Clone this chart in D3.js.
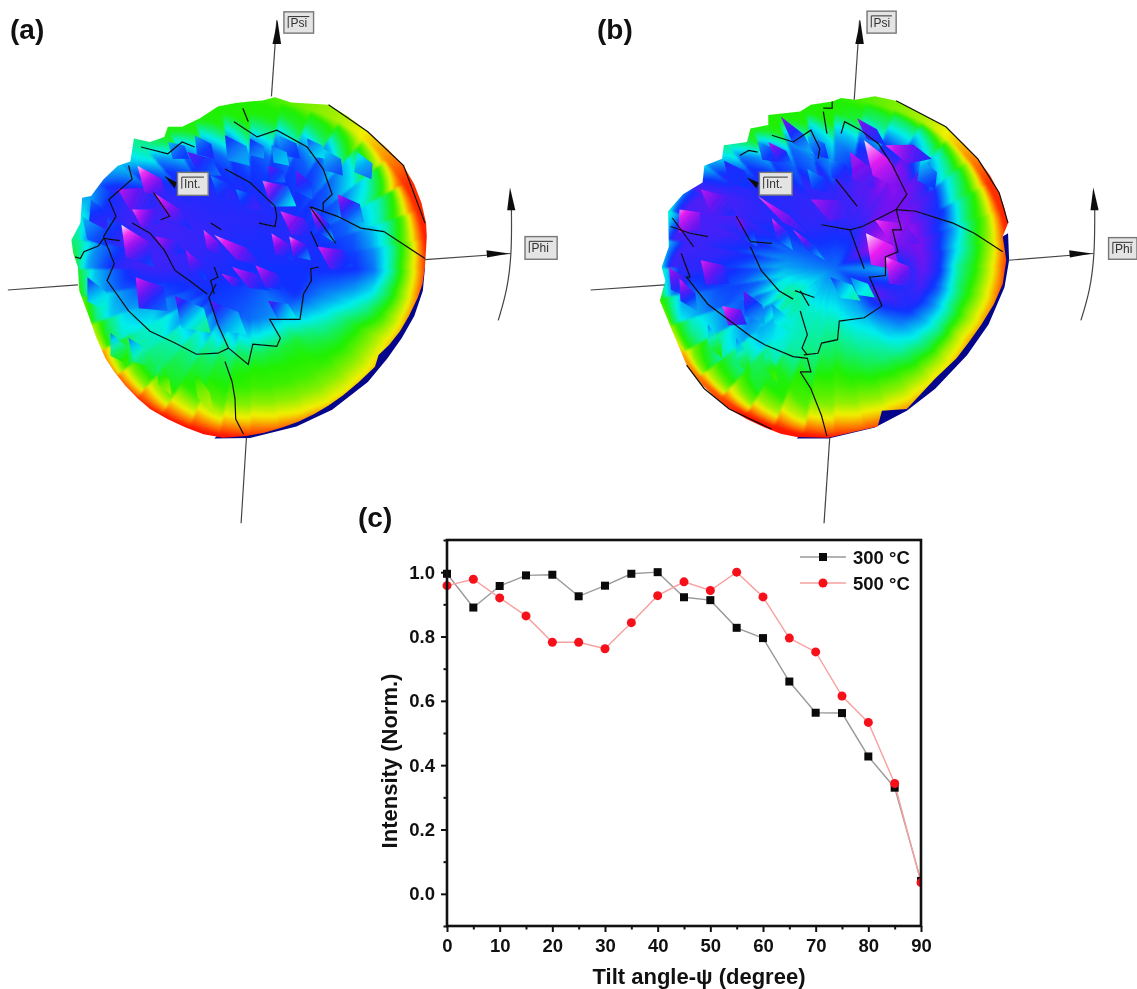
<!DOCTYPE html>
<html><head><meta charset="utf-8">
<script src="https://cdnjs.cloudflare.com/ajax/libs/d3/7.8.5/d3.min.js"></script>
<style>
html,body{margin:0;padding:0;background:#fff;width:1137px;height:989px;overflow:hidden}
#wrap{position:relative;width:1137px;height:989px}
canvas,svg{position:absolute;left:0;top:0}
text{font-family:"Liberation Sans",Arial,sans-serif}
</style></head><body><div id="wrap"></div>
<script>
// ---------- panel (c) data ----------
const tiltAngles=[0,5,10,15,20,25,30,35,40,45,50,55,60,65,70,75,80,85,90];
const intensity300=[.995,.89,.957,.99,.992,.925,.958,.995,1,.922,.913,.827,.795,.66,.563,.562,.427,.33,.04];
const intensity500=[.958,.978,.92,.864,.782,.782,.762,.843,.927,.97,.943,1,.923,.795,.752,.615,.533,.343,.035];
const xMajorTicks=[0,10,20,30,40,50,60,70,80,90];
const xMinorTicks=[5,15,25,35,45,55,65,75,85];
const yMajorTicks=[0,.2,.4,.6,.8,1];
const yMinorTicks=[-.1,.1,.3,.5,.7,.9,1.1];
const seriesNames=["300 °C","500 °C"];

// ---------- pole-figure surfaces (in picture units) ----------
const surfaceRadii=[0,.3,.5,.6,.7,.8,.9,.96,1];
// rows: direction, every 30 degrees clockwise from Phi; columns: surfaceRadii
const surfaceA=[
[.6,.6,.61,.6,.55,.4,.2,.08,0],
[.6,.6,.46,.38,.3,.22,.13,.05,0],
[.6,.52,.33,.3,.28,.23,.15,.06,0],
[.6,.55,.36,.3,.28,.22,.12,.05,0],
[.6,.58,.42,.37,.33,.3,.17,.07,0],
[.6,.6,.52,.45,.44,.42,.3,.15,.05],
[.6,.63,.65,.65,.63,.57,.5,.38,.3],
[.6,.64,.65,.66,.66,.65,.62,.58,.55],
[.6,.63,.62,.6,.57,.48,.32,.3,.3],
[.6,.63,.6,.59,.55,.4,.3,.3,.3],
[.6,.62,.6,.59,.57,.5,.35,.3,.2],
[.6,.63,.58,.55,.47,.42,.3,.12,.02]];
const surfaceB=[
[.55,.5,.7,.6,.4,.3,.15,.05,0],
[.55,.68,.6,.5,.38,.2,.08,.02,0],
[.55,.5,.42,.38,.3,.22,.12,.05,0],
[.55,.42,.35,.3,.27,.22,.12,.05,0],
[.55,.42,.42,.4,.32,.32,.22,.1,0],
[.55,.38,.54,.56,.5,.42,.33,.25,.1],
[.55,.5,.58,.6,.63,.63,.65,.5,.4],
[.55,.58,.63,.65,.67,.68,.67,.58,.45],
[.55,.64,.63,.6,.58,.5,.32,.3,.3],
[.55,.64,.64,.55,.52,.45,.3,.3,.3],
[.55,.64,.7,.76,.72,.58,.45,.35,.2],
[.55,.8,.74,.65,.6,.42,.3,.15,.02]];
// fine radial saw-tooth of the surface, one value per 10 degrees
const jagA=[.004,.006,.005,.004,.006,.006,.005,.006,.008,.02,.04,.03,.06,.04,.07,.05,.06,.05,.06,.08,.05,.07,.06,.05,.07,.06,.08,.05,.07,.06,.08,.05,.06,.03,.015,.008];
const jagB=[.004,.005,.006,.004,.006,.005,.006,.008,.01,.03,.06,.04,.07,.05,.08,.06,.07,.06,.07,.08,.06,.07,.05,.06,.08,.06,.08,.06,.06,.04,.05,.03,.02,.012,.008,.004];
const outlineA=[[700,300],[735,297],[770,288],[815,303],[920,310],[975,345],[1030,390],[1085,440],[1130,490],[1160,545],[1180,600],[1193,660],[1195,700],[1190,790],[1183,840],[1170,880],[1145,935],[1120,980],[1090,1020],[1060,1050],[1050,1085],[1005,1130],[960,1170],[920,1200],[880,1225],[835,1248],[790,1265],[740,1280],[690,1290],[625,1295],[570,1285],[520,1265],[470,1240],[420,1210],[385,1178],[350,1140],[320,1100],[295,1060],[270,1000],[250,940],[222,860],[218,790],[205,750],[200,710],[225,660],[230,585],[255,580],[290,530],[330,490],[365,478],[375,410],[420,420],[460,405],[470,375],[510,375],[560,350],[610,315],[660,305]];
const outlineB=[[735,290],[775,295],[830,285],[890,298],[960,335],[1030,375],[1080,425],[1120,470],[1155,520],[1180,570],[1195,615],[1205,660],[1190,700],[1200,770],[1190,840],[1165,900],[1130,960],[1095,1012],[1060,1060],[1000,1120],[920,1210],[850,1215],[838,1262],[760,1280],[700,1295],[610,1293],[565,1283],[520,1265],[470,1240],[420,1210],[380,1175],[345,1140],[320,1110],[300,1080],[260,980],[225,890],[240,830],[230,790],[250,730],[248,625],[290,575],[345,540],[350,490],[400,470],[405,430],[470,420],[480,380],[530,370],[530,340],[620,330],[650,310],[710,300]];
const shadowA=[[1190,790],[1184,860],[1160,935],[1125,1000],[1085,1060],[1030,1130],[930,1212],[830,1262],[700,1296],[600,1297],[700,1200],[1000,900]];
const shadowB=[[1205,690],[1208,770],[1195,850],[1150,960],[1090,1050],[1000,1150],[920,1215],[830,1265],[700,1297],[610,1297],[700,1200],[1000,900],[1190,700]];
// surface spikes: tip x, tip y, base x, base y, half width, tip level, base level
const spikesA=[
[470,420,530,470,30,.48,.6],[545,400,600,470,30,.5,.62],[780,400,840,470,32,.5,.6],[905,440,960,520,34,.45,.58],[1000,450,1040,530,34,.42,.55],
[255,590,300,680,34,.55,.64],[230,640,300,730,30,.48,.6],[590,520,660,590,28,.52,.64],[660,560,730,620,30,.52,.66],
[630,400,700,490,40,.62,.5],[525,450,620,520,35,.7,.55],[700,410,740,470,28,.62,.52],[760,430,810,490,28,.55,.48],[860,410,910,470,28,.58,.46],
[750,490,800,540,28,.72,.55],[830,505,875,590,30,.72,.55],[330,560,440,610,50,.8,.62],[385,490,470,590,36,.98,.62],[735,535,830,610,45,.92,.45],
[945,575,1020,660,40,.8,.5],[370,620,450,660,36,.9,.62],[430,570,540,680,24,.9,.6],[785,625,880,700,35,.88,.6],[868,612,940,720,24,.92,.5],
[570,680,620,760,22,.9,.62],[435,700,520,750,28,.8,.6],[340,665,430,790,46,1,.58],[600,695,740,790,26,.95,.6],[760,690,820,770,28,.9,.58],
[810,700,870,770,30,.95,.52],[890,730,990,790,40,.85,.58],[520,740,580,830,24,.8,.58],[650,790,760,860,28,.85,.58],[715,785,800,860,30,.85,.58],
[380,820,470,920,55,.85,.55],[245,820,300,920,35,.62,.42],[490,875,590,985,50,.72,.38],[590,890,690,990,45,.7,.45],[750,890,830,940,32,.7,.45],
[310,985,360,1080,32,.55,.28],[360,1000,430,1090,32,.55,.33],[440,1080,480,1170,20,.42,.2],[540,1090,600,1230,22,.35,.18],[620,810,690,850,16,.85,.58]];
const spikesB=[
[500,420,560,480,28,.5,.62],[640,400,700,470,30,.48,.6],[700,470,760,530,34,.5,.64],[960,470,1000,560,36,.45,.6],[640,500,700,570,28,.5,.62],
[565,345,660,460,24,.75,.5],[780,350,860,430,24,.75,.6],[530,420,600,490,24,.8,.55],[405,475,480,560,34,.62,.6],[800,415,900,560,40,1,.72],
[860,430,990,470,35,.88,.62],[760,450,830,560,36,.8,.66],[340,560,440,640,42,.8,.62],[280,620,340,680,50,.92,.68],[500,580,650,700,16,.92,.62],
[650,590,770,640,40,.78,.64],[830,650,960,720,42,.88,.68],[440,640,500,730,24,.78,.55],[540,645,600,740,22,.88,.5],[600,680,690,770,14,.88,.5],
[805,690,900,800,50,1,.74],[860,760,940,850,45,.95,.62],[340,770,420,840,45,.85,.6],[250,790,310,880,32,.8,.56],[280,825,330,920,28,.85,.52],
[705,820,790,890,30,.62,.4],[460,860,520,960,34,.72,.5],[400,905,470,960,34,.9,.62],[760,820,830,880,26,.55,.42],[540,900,590,980,24,.55,.42],
[360,960,400,1060,24,.55,.3],[440,1000,480,1110,24,.55,.3],[520,1040,555,1130,18,.45,.27]];
// black section lines of the plot
const contoursA=[
[[680,320],[695,360]],
[[655,360],[720,405],[775,385],[860,435],[905,500],[930,575],[905,600],[905,625],[870,612],[945,640],[1010,675],[1075,685],[1190,765]],
[[395,435],[470,455],[510,420],[545,435]],
[[360,490],[370,530],[305,590],[325,640],[290,700],[320,780],[300,830],[360,920],[420,980],[490,1015],[550,1048],[610,1045],[640,1030],[610,960],[585,880],[605,840]],
[[630,1070],[650,1130],[658,1180],[660,1240],[682,1285]],
[[640,1030],[695,1078],[708,1018],[775,1025],[785,1000],[755,945],[840,945],[850,870],[872,830],[870,795],[892,790]],
[[210,760],[225,765],[235,745],[275,728],[290,705],[335,712]],
[[370,660],[420,690],[460,740],[490,800],[530,830],[580,870]],
[[868,612],[940,720]],[[870,685],[890,730]],
[[630,500],[700,540],[770,610],[775,640],[770,670],[725,660]],
[[430,570],[475,640],[450,650]],[[590,660],[620,680]],
[[600,790],[610,820],[590,830],[600,870]],
[[920,310],[1030,390],[1130,490],[1190,660]]];
const contoursB=[
[[685,320],[710,320],[710,300]],[[685,330],[695,395]],
[[735,395],[745,360],[790,385],[840,425],[880,490],[920,575],[890,620],[795,670],[760,680],[800,795]],
[[890,620],[945,625],[1050,660],[1110,690],[1190,745]],
[[890,620],[905,680],[880,680],[895,745],[860,760],[860,815],[815,820],[850,905],[800,940],[730,950],[725,1005],[680,1015],[670,1045],[630,1050]],
[[620,1100],[650,1150],[680,1230],[695,1290]],
[[260,645],[320,730]],[[255,670],[310,690],[360,700]],
[[285,750],[310,820],[300,820],[360,900],[480,995],[520,1020],[600,1055],[640,1060],[650,1100],[620,1100]],
[[620,920],[640,990],[625,1030],[640,1050]],
[[440,640],[480,715],[540,720]],[[480,730],[510,800],[560,860],[600,885]],
[[450,460],[475,445],[500,450]],
[[540,400],[600,420],[650,385],[675,440],[670,470]],
[[720,530],[780,610]],[[680,665],[760,680]],
[[620,860],[645,905]],[[605,860],[660,880]],
[[300,1080],[350,1150],[420,1210],[540,1270]],
[[890,298],[1030,375],[1120,470],[1180,570],[1205,660]]];
const levelStops=[0,.07,.15,.3,.45,.6,.72,.86,1];
const levelColors=['#ff1400','#ff7a00','#f0f000','#20f000','#00eeee','#1030ff','#7a10f0','#f020f0','#f6f0ff'];

const W=1137,H=989;
const wrap=d3.select('#wrap');
const canvas=wrap.append('canvas').attr('width',W).attr('height',H).node();
const ctx=canvas.getContext('2d');
ctx.fillStyle='#fff';ctx.fillRect(0,0,W,H);
const svg=wrap.append('svg').attr('width',W).attr('height',H);
const defs=svg.append('defs');
defs.append('filter').attr('id','soft').attr('x','-5%').attr('y','-5%').attr('width','110%').attr('height','110%')
  .append('feGaussianBlur').attr('stdDeviation',.7);
defs.append('filter').attr('id','softer').append('feGaussianBlur').attr('stdDeviation',.35);
const level=d3.scaleLinear().domain(levelStops).range(levelColors).clamp(true);

const panels=[
 {id:'a',surface:surfaceA,jag:jagA,outline:outlineA,shadow:shadowA,spikes:spikesA,contours:contoursA,
  cx:700,cy:793,x:[0,560],psi:[[760,285],[775,60]],west:[[22,858],[218,843]],south:[[690,1295],[675,1548]],east:[[1190,768],[1430,750]],
  arc:[[1395,948],[1420,860],[1433,750],[1432,620]],top:1428,boxes:[['Psi',795,35,878,98],['Int.',497,510,583,578],['Phi',1470,700,1560,767]],intArrow:[460,520,495,558]},
 {id:'b',surface:surfaceB,jag:jagB,outline:outlineB,shadow:shadowB,spikes:spikesB,contours:contoursB,
  cx:715,cy:792,x:[580,1137],psi:[[772,295],[787,60]],west:[[30,858],[238,843]],south:[[703,1295],[687,1548]],east:[[1205,770],[1445,750]],
  arc:[[1410,948],[1436,860],[1449,750],[1449,620]],top:1445,boxes:[['Psi',808,33,890,98],['Int.',505,510,597,577],['Phi',1488,703,1568,767]],intArrow:[470,525,503,558]}
];

panels.forEach(p=>{
  const sx=d3.scaleLinear().domain([0,1568]).range(p.x);
  const sy=d3.scaleLinear().domain([0,1568]).range([0,530]);
  const line=d3.line().x(d=>sx(d[0])).y(d=>sy(d[1]));
  // navy underside
  ctx.fillStyle='#05058c';ctx.beginPath();
  p.shadow.forEach((d,i)=>i?ctx.lineTo(sx(d[0]),sy(d[1])):ctx.moveTo(sx(d[0]),sy(d[1])));
  ctx.closePath();ctx.fill();
  // shaded surface
  const x0=Math.floor(sx(150)),x1=Math.ceil(sx(1250)),y0=Math.floor(sy(250)),y1=Math.ceil(sy(1340));
  const off=document.createElement('canvas');off.width=x1-x0;off.height=y1-y0;
  const oc=off.getContext('2d'),img=oc.createImageData(off.width,off.height);
  for(let y=y0;y<y1;y++)for(let x=x0;x<x1;x++){
    const dx=(sx.invert(x)-p.cx)/495,dy=(sy.invert(y)-p.cy)/500;
    let r=Math.hypot(dx,dy),th=(Math.atan2(dy,dx)*180/Math.PI+360)%360;
    const s=th/10,si=Math.floor(s)%36;
    const fade=Math.min(1,r/.45)*(1-Math.pow(Math.min(r,1),8));
    r=Math.max(0,Math.min(1,r+p.jag[si]*(s-Math.floor(s)-.5)*2*fade));
    const a=th/30,ai=Math.floor(a)%12,af=a-Math.floor(a),aj=(ai+1)%12;
    let ri=d3.bisectRight(surfaceRadii,r)-1;ri=Math.min(ri,surfaceRadii.length-2);
    const rf=(r-surfaceRadii[ri])/(surfaceRadii[ri+1]-surfaceRadii[ri]);
    const A=p.surface[ai],B=p.surface[aj];
    const v=(A[ri]*(1-rf)+A[ri+1]*rf)*(1-af)+(B[ri]*(1-rf)+B[ri+1]*rf)*af;
    const c=d3.rgb(level(v)),o=((y-y0)*off.width+(x-x0))*4;
    img.data[o]=c.r;img.data[o+1]=c.g;img.data[o+2]=c.b;img.data[o+3]=255;
  }
  oc.putImageData(img,0,0);
  ctx.save();ctx.beginPath();
  p.outline.forEach((d,i)=>i?ctx.lineTo(sx(d[0]),sy(d[1])):ctx.moveTo(sx(d[0]),sy(d[1])));
  ctx.closePath();ctx.clip();ctx.filter='blur(1px)';ctx.drawImage(off,x0,y0);ctx.restore();

  defs.append('clipPath').attr('id','clip'+p.id).append('path').attr('d',line(p.outline)+'Z');
  const g=svg.append('g').attr('class','panel-'+p.id).attr('filter','url(#soft)');
  // spikes
  const sg=g.append('g').attr('clip-path',`url(#clip${p.id})`);
  p.spikes.forEach((d,i)=>{
    const [tx,ty,bx,by,w,vt,vb]=d;
    const gid=`sp${p.id}${i}`;
    const gr=defs.append('linearGradient').attr('id',gid).attr('gradientUnits','userSpaceOnUse')
      .attr('x1',sx(tx)).attr('y1',sy(ty)).attr('x2',sx(bx)).attr('y2',sy(by));
    d3.range(0,1.01,.2).forEach(t=>gr.append('stop').attr('offset',t).attr('stop-color',level(vb+(vt-vb)*Math.pow(1-t,1.6))));
    const L=Math.hypot(bx-tx,by-ty),nx=-(by-ty)/L,ny=(bx-tx)/L;
    const mx=tx+(bx-tx)*.55,my=ty+(by-ty)*.55;
    const pts=[[tx,ty],[mx+nx*w,my+ny*w],[bx,by],[mx-nx*w*.7,my-ny*w*.7]];
    sg.append('path').attr('d',line(pts)+'Z').attr('fill',`url(#${gid})`);
  });
  // section lines
  g.append('g').selectAll('path').data(p.contours).join('path').attr('d',line)
    .attr('fill','none').attr('stroke','#111').attr('stroke-width',1.2);
  // axes of the 3D view
  [p.psi,p.west,p.south,p.east].forEach(l=>g.append('path').attr('d',line(l)).attr('fill','none').attr('stroke','#444').attr('stroke-width',1.2));
  g.append('path').attr('d',d3.line().x(d=>sx(d[0])).y(d=>sy(d[1])).curve(d3.curveBasis)(p.arc)).attr('fill','none').attr('stroke','#444').attr('stroke-width',1.2);
  const tip=p.psi[1];
  g.append('path').attr('d',line([[tip[0]+2,tip[1]],[tip[0]+12,tip[1]+70],[tip[0]-12,tip[1]+70]])+'Z').attr('fill','#111');
  const et=p.east[1];
  g.append('path').attr('d',line([[et[0]-4,et[1]],[et[0]-68,et[1]-10],[et[0]-66,et[1]+12]])+'Z').attr('fill','#111');
  g.append('path').attr('d',line([[p.top,555],[p.top+15,622],[p.top-8,622]])+'Z').attr('fill','#111');
  const ia=p.intArrow;
  g.append('path').attr('d',line([[ia[0],ia[1]],[ia[2],ia[3]-18],[ia[2]-6,ia[3]]])+'Z').attr('fill','#111');
  // label buttons
  p.boxes.forEach(([t,a,b,c,e])=>{
    const bg=svg.append('g').attr('filter','url(#softer)');
    bg.append('rect').attr('x',sx(a)).attr('y',sy(b)).attr('width',sx(c)-sx(a)).attr('height',sy(e)-sy(b)).attr('fill','#e4e4e4').attr('stroke','#777').attr('stroke-width',1.4);
    bg.append('path').attr('d',line([[a+12,b+48],[a+12,b+14],[c-12,b+14]])).attr('fill','none').attr('stroke','#333').attr('stroke-width',1);
    bg.append('text').attr('x',sx(a)+6.5).attr('y',sy(b)+sy(e-b)/2+4.5).attr('font-size',12).attr('fill','#333').text(t);
  });
});

// panel tags
[['(a)',10,39],['(b)',597,39],['(c)',358,527]].forEach(([t,x,y])=>
  svg.append('text').attr('x',x).attr('y',y).attr('font-size',28).attr('font-weight',700).attr('fill','#111').text(t));

// ---------- panel (c) ----------
const margin={l:447,r:921,t:540,b:926};
const x=d3.scaleLinear().domain([0,90]).range([margin.l,margin.r]);
const y=d3.scaleLinear().domain([-.1,1.1]).range([margin.b,margin.t]);
const c=svg.append('g').attr('class','panel-c');
defs.append('clipPath').attr('id','plotclip').append('rect').attr('x',margin.l-15).attr('y',margin.t-5).attr('width',margin.r-margin.l+16).attr('height',margin.b-margin.t+10);
const plot=c.append('g').attr('clip-path','url(#plotclip)');
const lineGen=d3.line().x((d,i)=>x(tiltAngles[i])).y(d=>y(d));
plot.append('path').attr('d',lineGen(intensity300)).attr('fill','none').attr('stroke','#9a9a9a').attr('stroke-width',1.4);
plot.append('path').attr('d',lineGen(intensity500)).attr('fill','none').attr('stroke','#f7a0a0').attr('stroke-width',1.4);
plot.selectAll('rect.s300').data(intensity300).join('rect').attr('class','s300')
  .attr('x',(d,i)=>x(tiltAngles[i])-4).attr('y',d=>y(d)-4).attr('width',8).attr('height',8).attr('fill','#0a0a0a');
plot.selectAll('circle.s500').data(intensity500).join('circle').attr('class','s500')
  .attr('cx',(d,i)=>x(tiltAngles[i])).attr('cy',d=>y(d)).attr('r',4.5).attr('fill','#f5101a');

const axB=d3.axisBottom(x).tickValues(xMajorTicks).tickFormat(d3.format('d')).tickSize(6).tickPadding(7);
c.append('g').attr('transform',`translate(0,${margin.b})`).call(axB);
const axBm=d3.axisBottom(x).tickValues(xMinorTicks).tickFormat('').tickSize(3.5);
c.append('g').attr('transform',`translate(0,${margin.b})`).call(axBm);
const axL=d3.axisLeft(y).tickValues(yMajorTicks).tickFormat(d3.format('.1f')).tickSize(6).tickPadding(6);
c.append('g').attr('transform',`translate(${margin.l},0)`).call(axL);
const axLm=d3.axisLeft(y).tickValues(yMinorTicks).tickFormat('').tickSize(3.5);
c.append('g').attr('transform',`translate(${margin.l},0)`).call(axLm);
c.selectAll('.domain').remove();
c.selectAll('.tick line').attr('stroke','#111').attr('stroke-width',2);
c.selectAll('.tick text').attr('font-size',18.5).attr('font-weight',700).attr('fill','#111').attr('font-family','"Liberation Sans",Arial,sans-serif');
c.append('rect').attr('x',margin.l).attr('y',margin.t).attr('width',margin.r-margin.l).attr('height',margin.b-margin.t)
  .attr('fill','none').attr('stroke','#111').attr('stroke-width',2.6);
c.append('text').attr('x',699).attr('y',984).attr('text-anchor','middle').attr('font-size',22).attr('font-weight',700).attr('fill','#111').text('Tilt angle-ψ (degree)');
c.append('text').attr('transform','translate(397,761) rotate(-90)').attr('text-anchor','middle').attr('font-size',22).attr('font-weight',700).attr('fill','#111').text('Intensity (Norm.)');
// legend
const legendY=[557,583],legendCol=['#9a9a9a','#f7a0a0'];
seriesNames.forEach((n,i)=>{
  c.append('line').attr('x1',800).attr('x2',846).attr('y1',legendY[i]).attr('y2',legendY[i]).attr('stroke',legendCol[i]).attr('stroke-width',1.4);
  if(i==0)c.append('rect').attr('x',819).attr('y',legendY[i]-4).attr('width',8).attr('height',8).attr('fill','#0a0a0a');
  else c.append('circle').attr('cx',823).attr('cy',legendY[i]).attr('r',4.5).attr('fill','#f5101a');
  c.append('text').attr('x',853).attr('y',legendY[i]+6.5).attr('font-size',18.5).attr('font-weight',700).attr('fill','#111').text(n);
});
</script></body></html>
